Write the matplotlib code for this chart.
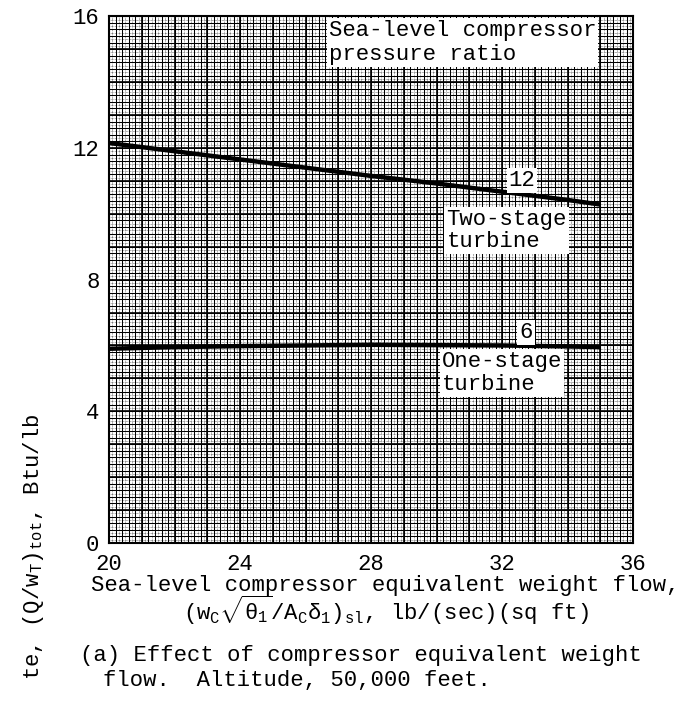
import numpy as np
import matplotlib
matplotlib.use("Agg")
import matplotlib.pyplot as plt

plt.rcParams['font.family'] = ['Liberation Mono', 'DejaVu Sans Mono']
plt.rcParams['mathtext.fontset'] = 'custom'
plt.rcParams['mathtext.rm'] = 'Liberation Mono'
plt.rcParams['mathtext.it'] = 'Liberation Mono'

# sea-level compressor equivalent weight flow
flow_two = [20, 22, 24, 26, 28, 30, 32, 34, 35]
heat_two = [12.15, 11.9, 11.65, 11.4, 11.15, 10.92, 10.67, 10.42, 10.28]   # ratio 12
flow_one = [20, 22, 24, 26, 28, 30, 32, 34, 35]
heat_one = [5.9, 5.95, 5.98, 6.0, 6.02, 6.01, 6.0, 5.97, 5.95]            # ratio 6

xticks = [20, 24, 28, 32, 36]
yticks = [0, 4, 8, 12, 16]

fig = plt.figure(figsize=(6.95, 7.07), dpi=100)
ax = fig.add_axes([0.157, 0.232, 0.754, 0.745])
ax.set_xlim(20, 36)
ax.set_ylim(0, 16)

# graph paper
for v in np.arange(20.1, 36, 0.2):
    ax.axvline(v, color='k', lw=0.4, ls=(0, (1, 1.5)), zorder=0)
for v in np.arange(0.1, 16, 0.2):
    ax.axhline(v, color='k', lw=0.4, ls=(0, (1, 1.5)), zorder=0)
for v in np.arange(20, 36.01, 0.2):
    ax.axvline(v, color='k', lw=0.75, zorder=0)
for v in np.arange(0, 16.01, 0.2):
    ax.axhline(v, color='k', lw=0.75, zorder=0)
for v in range(21, 36):
    ax.axvline(v, color='k', lw=1.2, zorder=0)
for v in range(1, 16):
    ax.axhline(v, color='k', lw=1.2, zorder=0)

ax.plot(flow_two, heat_two, color='k', lw=3.2, solid_capstyle='butt', zorder=3)
ax.plot(flow_one, heat_one, color='k', lw=3.2, solid_capstyle='butt', zorder=3)

ax.set_xticks(xticks)
ax.set_yticks(yticks)
ax.tick_params(axis='x', length=0, labelsize=16, pad=8)
ax.tick_params(axis='y', length=0, labelsize=16, pad=7)
for s in ax.spines.values():
    s.set_linewidth(1.5)

box = dict(facecolor='white', edgecolor='none', pad=1.5)
ax.text(26.7, 15.88, "Sea-level compressor\npressure ratio", fontsize=16,
        va='top', ha='left', bbox=box, zorder=5, linespacing=1.15)
ax.text(32.61, 11.02, "12", fontsize=16, ha='center', va='center', bbox=box, zorder=5)
ax.text(30.3, 10.15, "Two-stage\nturbine", fontsize=16, ha='left', va='top',
        bbox=box, zorder=5, linespacing=1.1)
ax.text(32.73, 6.4, "6", fontsize=16, ha='center', va='center', bbox=box, zorder=5)
ax.text(30.15, 5.82, "One-stage\nturbine", fontsize=16, ha='left', va='top',
        bbox=box, zorder=5, linespacing=1.1)

fig.text(0.555, 1 - 585 / 707, "Sea-level compressor equivalent weight flow,",
         fontsize=16, ha='center', va='center')
fig.text(0.555, 1 - 610 / 707,
         r"$(\mathrm{w_C}\sqrt{\theta_1}/\mathrm{A_C}\delta_1)_{sl}$, lb/(sec)(sq ft)",
         fontsize=16, ha='center', va='center')
fig.text(0.115, 1 - 655 / 707, "(a) Effect of compressor equivalent weight",
         fontsize=16, ha='left', va='center')
fig.text(0.148, 1 - 680 / 707, "flow.  Altitude, 50,000 feet.",
         fontsize=16, ha='left', va='center')
# y label runs off the bottom of the page in the original; only this part shows
fig.text(0.048, 1 - 413 / 707,
         r"te, $(\mathrm{Q/w_T})_{\mathrm{tot}}$, Btu/lb",
         fontsize=16, rotation=90, ha='center', va='top')

fig.savefig("out.png", dpi=100)
